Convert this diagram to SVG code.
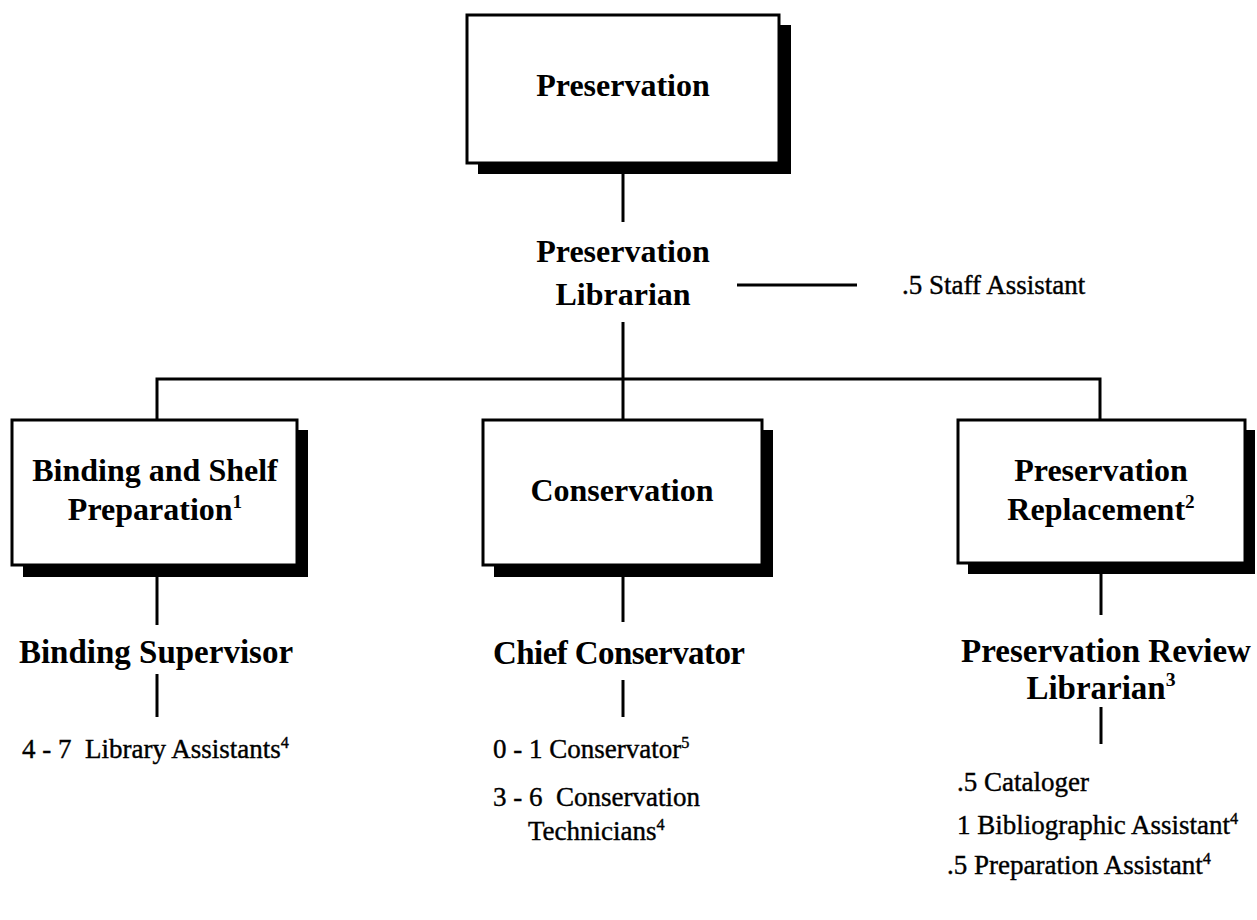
<svg xmlns="http://www.w3.org/2000/svg" width="1257" height="920" viewBox="0 0 1257 920">
<style>
.box{fill:#fff;stroke:#000;stroke-width:3}
.shadow{fill:#000}
.ln{stroke:#000;stroke-width:3;fill:none}
.t{font-family:"Liberation Serif","Times New Roman",serif;fill:#000}
.big{font-size:32px;font-weight:bold}
.role{font-size:33px;font-weight:bold}
.sm{font-size:27px;stroke:#000;stroke-width:0.4}
.sup{font-size:60%}
</style>
<rect width="1257" height="920" fill="#fff"/>
<g id="connectors">
<line class="ln" x1="623" y1="173" x2="623" y2="222"/>
<line class="ln" x1="737" y1="285" x2="857" y2="285"/>
<line class="ln" x1="623" y1="322" x2="623" y2="420"/>
<polyline class="ln" points="157,420 157,379 1100,379 1100,420"/>
<line class="ln" x1="157" y1="577" x2="157" y2="625"/>
<line class="ln" x1="157" y1="674" x2="157" y2="717"/>
<line class="ln" x1="623" y1="577" x2="623" y2="622"/>
<line class="ln" x1="623" y1="680" x2="623" y2="717"/>
<line class="ln" x1="1101" y1="574" x2="1101" y2="615"/>
<line class="ln" x1="1101" y1="707" x2="1101" y2="744"/>
</g>
<g id="preservation">
<rect class="shadow" x="478" y="25" width="313" height="149"/>
<rect class="box" x="467" y="15" width="312" height="148"/>
<text class="t big" x="623" y="96" text-anchor="middle">Preservation</text>
</g>
<g id="preservation-librarian">
<text class="t big" x="623" y="262" text-anchor="middle">Preservation</text>
<text class="t big" x="623" y="305" text-anchor="middle">Librarian</text>
</g>
<g id="staff-assistant">
<text class="t sm" x="902" y="294">.5 Staff Assistant</text>
</g>
<g id="binding">
<rect class="shadow" x="23" y="430" width="285" height="147"/>
<rect class="box" x="12" y="420" width="285" height="145"/>
<text class="t big" x="155" y="481" text-anchor="middle">Binding and Shelf</text>
<text class="t big" x="155" y="520" text-anchor="middle">Preparation<tspan class="sup" dy="-12">1</tspan></text>
</g>
<g id="conservation">
<rect class="shadow" x="494" y="430" width="279" height="147"/>
<rect class="box" x="483" y="420" width="279" height="145"/>
<text class="t big" x="622" y="501" text-anchor="middle">Conservation</text>
</g>
<g id="replacement">
<rect class="shadow" x="968" y="430" width="287" height="144"/>
<rect class="box" x="958" y="420" width="287" height="143"/>
<text class="t big" x="1101" y="481" text-anchor="middle">Preservation</text>
<text class="t big" x="1101" y="520" text-anchor="middle">Replacement<tspan class="sup" dy="-12">2</tspan></text>
</g>
<g id="binding-supervisor">
<text class="t role" x="156" y="663" text-anchor="middle">Binding Supervisor</text>
</g>
<g id="chief-conservator">
<text class="t role" x="493" y="664" textLength="252">Chief Conservator</text>
</g>
<g id="review-librarian">
<text class="t role" x="1106" y="662" text-anchor="middle">Preservation Review</text>
<text class="t role" x="1101" y="699" text-anchor="middle">Librarian<tspan class="sup" dy="-13">3</tspan></text>
</g>
<g id="library-assistants">
<text class="t sm" x="22" y="758" xml:space="preserve">4 - 7  Library Assistants<tspan class="sup" dy="-10">4</tspan></text>
</g>
<g id="conservator">
<text class="t sm" x="493" y="758">0 - 1 Conservator<tspan class="sup" dy="-10">5</tspan></text>
</g>
<g id="technicians">
<text class="t sm" x="493" y="806" xml:space="preserve">3 - 6  Conservation</text>
<text class="t sm" x="528" y="840">Technicians<tspan class="sup" dy="-10">4</tspan></text>
</g>
<g id="cataloger">
<text class="t sm" x="957" y="791">.5 Cataloger</text>
</g>
<g id="bibliographic">
<text class="t sm" x="957" y="834">1 Bibliographic Assistant<tspan class="sup" dy="-10">4</tspan></text>
</g>
<g id="preparation-assistant">
<text class="t sm" x="947" y="874">.5 Preparation Assistant<tspan class="sup" dy="-10">4</tspan></text>
</g>
</svg>
